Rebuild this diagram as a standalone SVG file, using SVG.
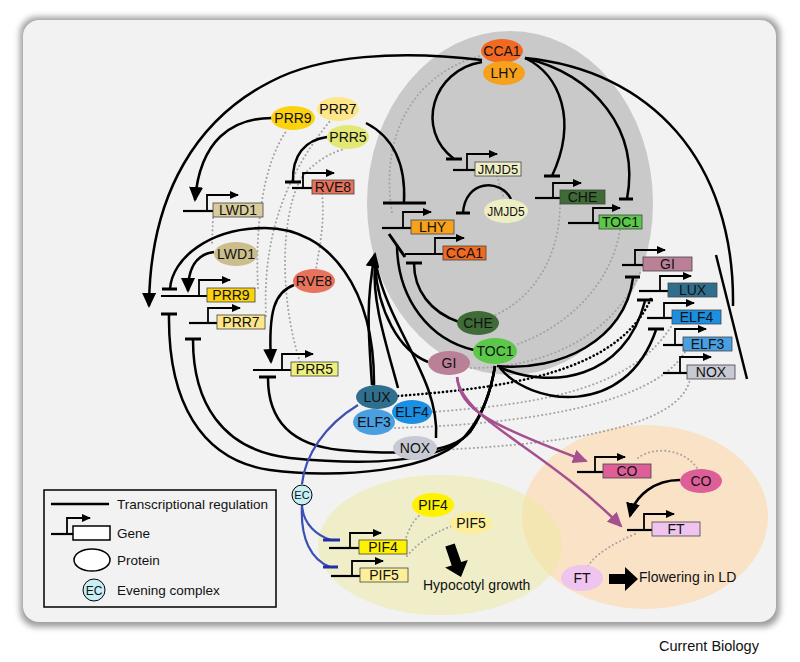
<svg xmlns="http://www.w3.org/2000/svg" width="800" height="662" viewBox="0 0 800 662">
<style>
.ln{fill:none;stroke:#000;stroke-width:2.5}
.tb{stroke:#000;stroke-width:3;fill:none}
.pr{fill:none;stroke:#000;stroke-width:2.2}
.ga{fill:none;stroke:#000;stroke-width:1.8}
.box{stroke:#444;stroke-width:0.8}
.lbl{font-family:"Liberation Sans",Arial,sans-serif;font-size:14px;text-anchor:middle;fill:#111}
.leg{font-family:"Liberation Sans",Arial,sans-serif;font-size:13.5px;fill:#111}
.big{font-family:"Liberation Sans",Arial,sans-serif;font-size:14px;fill:#111}
.dot{fill:none;stroke:#a3a3a3;stroke-width:2;stroke-dasharray:0.1 4;stroke-linecap:round}
.bdot{fill:none;stroke:#000;stroke-width:2.6;stroke-dasharray:0.1 4;stroke-linecap:round}
.pu{fill:none;stroke:#a5508f;stroke-width:2.5}
.bl{fill:none;stroke:#3b4fb5;stroke-width:2.2}
.blt{stroke:#1f2fa8;stroke-width:3}
</style>
<defs>
<filter id="sh" x="-5%" y="-5%" width="110%" height="110%"><feGaussianBlur stdDeviation="3"/></filter>
<marker id="ga" markerUnits="userSpaceOnUse" markerWidth="10" markerHeight="8" refX="8" refY="4" orient="auto"><path d="M0,0 L9,4 L0,8 z" fill="#000"/></marker>
<marker id="ah" markerUnits="userSpaceOnUse" markerWidth="16" markerHeight="14" refX="13" refY="7" orient="auto"><path d="M0,0 L15,7 L0,14 z" fill="#000"/></marker>
<marker id="ap" markerUnits="userSpaceOnUse" markerWidth="16" markerHeight="14" refX="13" refY="7" orient="auto"><path d="M0,0 L15,7 L0,14 z" fill="#a5508f"/></marker>
</defs>
<rect width="800" height="662" fill="#fff"/>
<rect x="20" y="17" width="760" height="610" rx="17" fill="#9c9c9c" filter="url(#sh)"/>
<rect x="23" y="20" width="753" height="602" rx="16" fill="#f2f2f2"/>
<ellipse cx="510" cy="203" rx="143" ry="172" fill="#c9c9c9"/>
<ellipse cx="645" cy="517" rx="123" ry="92" fill="#fae2c6"/>
<ellipse cx="440" cy="545" rx="122" ry="70" fill="#ecea9e" opacity="0.5"/>
<text class="big" x="659" y="651" style="font-size:14.5px">Current Biology</text>

<g id="dotted">
<path class="dot" d="M213,218 L212,243"/>
<path class="dot" d="M258,288 C255,230 262,165 287,130"/>
<path class="dot" d="M266,316 C262,230 290,170 330,121"/>
<path class="dot" d="M300,362 C280,300 280,220 300,180 C310,165 330,152 345,149"/>
<path class="dot" d="M322,194 C325,220 320,245 316,269"/>
<path class="dot" d="M392,212 C380,140 410,75 480,56"/>
<path class="dot" d="M497,176 L504,199"/>
<path class="dot" d="M560,204 C560,260 530,300 495,315"/>
<path class="dot" d="M620,230 C610,290 560,330 515,345"/>
<path class="dot" d="M471,368 C540,368 610,340 640,273"/>
<path class="dot" d="M432,412 C520,405 630,395 672,325"/>
<path class="dot" d="M395,428 C500,425 650,410 685,352"/>
<path class="dot" d="M437,450 C550,445 680,430 690,379"/>
<path class="dot" d="M405,541 C410,525 415,518 424,512"/>
<path class="dot" d="M407,556 C420,540 440,530 455,525"/>
<path class="dot" d="M638,458 C655,445 685,450 697,468"/>
<path class="dot" d="M635,534 C610,545 595,555 588,566"/>
</g>

<g id="connectors">
<path class="ln" d="M482,60 C400,50 320,55 270,82 C200,118 150,190 149,306" marker-end="url(#ah)"/>
<path class="ln" d="M272,118 C232,118 200,140 195,200" marker-end="url(#ah)"/>
<path class="ln" d="M482,62 C432,70 415,130 454,159"/>
<path class="ln" d="M525,58 C560,75 578,120 552,176"/>
<path class="ln" d="M525,58 C595,75 640,130 627,199"/>
<path class="ln" d="M525,58 C650,70 735,160 733,306"/>
<path class="ln" d="M366,123 C395,138 406,165 404,203"/>
<path class="ln" d="M327,137 C305,140 292,155 293,182"/>
<path class="ln" d="M511,199 C500,178 465,180 463,213"/>
<path class="ln" d="M459,322 C430,312 414,290 414,263"/>
<path class="ln" d="M474,350 C430,340 398,300 397,246"/>
<path class="ln" d="M374,386 C375,290 330,228 265,228 C210,228 172,258 170,289"/>
<path class="ln" d="M214,252 C198,254 188,265 188,291" marker-end="url(#ah)"/>
<path class="ln" d="M294,285 C275,292 268,310 271,362" marker-end="url(#ah)"/>
<path class="ln" d="M372,385 C368,330 366,300 375,254" marker-end="url(#ah)"/>
<path class="ln" d="M398,388 C385,340 372,300 375,265"/>
<path class="ln" d="M428,362 C398,350 378,310 375,265"/>
<path class="ln" d="M436,438 C440,380 390,330 376,265"/>
<path class="ln" d="M169,315 C168,400 200,460 270,470 C330,478 440,475 470,430 C485,410 492,385 495,366"/>
<path class="ln" d="M193,340 C193,400 220,450 290,458 C360,465 440,465 470,432 C485,410 492,385 495,366"/>
<path class="ln" d="M268,378 C268,420 290,445 340,450 C400,455 450,455 470,432 C485,410 492,385 495,366"/>
<path class="ln" d="M497,366 C560,372 625,340 633,278"/>
<path class="ln" d="M499,367 C550,390 625,380 645,301"/>
<path class="ln" d="M500,368 C530,405 625,420 656,330"/>
<path class="bdot" d="M398,396 C500,388 620,375 652,296"/>
<path class="ln" d="M680,480 C655,480 635,495 630,516" marker-end="url(#ah)"/>
<path class="pu" d="M457,377 C460,410 490,425 586,461" marker-end="url(#ap)"/>
<path class="pu" d="M457,377 C462,420 540,445 621,526" marker-end="url(#ap)"/>
<path class="bl" d="M358,405 C325,425 305,455 302,484"/>
<path class="bl" d="M302,505 C303,525 318,536 331,540"/>
<path class="bl" d="M302,505 C300,540 312,560 330,567"/>
<g id="tbars">
<path class="tb" d="M162,289 H177 M161,314 H177 M185,339 H201 M259,377 H276 M285,182 H301 M446,159 H462 M383,203 H426 M456,213 H470 M406,263 H422 M389,234 L405,257 M544,176 H560 M619,199 H633 M625,277 H640 M637,300 H653 M648,329 H664"/>
<path class="ln" d="M716,255 L747,379"/>
<path class="blt" d="M323,540 H340 M323,567 H338"/>
</g>
<polygon points="454.7,543.4 461.2,562.1 467.8,559.9 461,577 445.1,567.6 451.7,565.4 445.3,546.6" fill="#000"/>
<polygon points="609,574 625,574 625,567 638,579 625,591 625,584 609,584" fill="#000"/>
</g>

<g id="gene-LWD1"><path class="pr" d="M183,211 H213"/><path class="ga" d="M207,211 V195 H238" marker-end="url(#ga)"/><rect class="box" x="213" y="203" width="50" height="14" fill="#d8cc9c"/><text class="lbl" x="238" y="215">LWD1</text></g>
<g id="gene-PRR9"><path class="pr" d="M161,296 H207"/><path class="ga" d="M199,296 V280 H230" marker-end="url(#ga)"/><rect class="box" x="207" y="288" width="48" height="14" fill="#fcd20f"/><text class="lbl" x="231" y="300">PRR9</text></g>
<g id="gene-PRR7"><path class="pr" d="M189,323 H217"/><path class="ga" d="M208,323 V308 H240" marker-end="url(#ga)"/><rect class="box" x="217" y="315" width="48" height="14" fill="#fde78a"/><text class="lbl" x="241" y="327">PRR7</text></g>
<g id="gene-PRR5"><path class="pr" d="M253,370 H291"/><path class="ga" d="M282,370 V354 H313" marker-end="url(#ga)"/><rect class="box" x="291" y="362" width="47" height="14" fill="#eef07a"/><text class="lbl" x="314.5" y="374">PRR5</text></g>
<g id="gene-RVE8"><path class="pr" d="M292,188 H312"/><path class="ga" d="M303,188 V173 H334" marker-end="url(#ga)"/><rect class="box" x="312" y="180" width="42" height="14" fill="#e8735c"/><text class="lbl" x="333" y="192">RVE8</text></g>
<g id="gene-JMJD5"><path class="pr" d="M453,170 H475"/><path class="ga" d="M467,170 V154 H497" marker-end="url(#ga)"/><rect class="box" x="475" y="162" width="46" height="14" fill="#eeeec4"/><text class="lbl" x="498" y="174" style="font-size:13px">JMJD5</text></g>
<g id="gene-LHY"><path class="pr" d="M382,228 H411"/><path class="ga" d="M403,228 V212 H431" marker-end="url(#ga)"/><rect class="box" x="411" y="220" width="43" height="14" fill="#f6a21c"/><text class="lbl" x="432.5" y="232">LHY</text></g>
<g id="gene-CCA1"><path class="pr" d="M405,254 H443"/><path class="ga" d="M435,254 V238 H464" marker-end="url(#ga)"/><rect class="box" x="443" y="246" width="43" height="14" fill="#f26a21"/><text class="lbl" x="464.5" y="258">CCA1</text></g>
<g id="gene-CHE"><path class="pr" d="M535,198 H560"/><path class="ga" d="M553,198 V183 H581" marker-end="url(#ga)"/><rect class="box" x="560" y="190" width="45" height="14" fill="#3f6b37"/><text class="lbl" x="582.5" y="202">CHE</text></g>
<g id="gene-TOC1"><path class="pr" d="M568,223 H599"/><path class="ga" d="M593,223 V208 H620" marker-end="url(#ga)"/><rect class="box" x="599" y="215" width="43" height="14" fill="#5bc84a"/><text class="lbl" x="620.5" y="227">TOC1</text></g>
<g id="gene-GI"><path class="pr" d="M622,265 H643"/><path class="ga" d="M635,265 V250 H665" marker-end="url(#ga)"/><rect class="box" x="643" y="257" width="49" height="14" fill="#b98097"/><text class="lbl" x="667.5" y="269">GI</text></g>
<g id="gene-LUX"><path class="pr" d="M639,291 H668"/><path class="ga" d="M660,291 V276 H691" marker-end="url(#ga)"/><rect class="box" x="668" y="283" width="49" height="14" fill="#2f6f8d"/><text class="lbl" x="692.5" y="295">LUX</text></g>
<g id="gene-ELF4"><path class="pr" d="M647,318 H672"/><path class="ga" d="M664,318 V303 H694" marker-end="url(#ga)"/><rect class="box" x="672" y="310" width="49" height="14" fill="#1b8fe2"/><text class="lbl" x="696.5" y="322">ELF4</text></g>
<g id="gene-ELF3"><path class="pr" d="M663,345 H683"/><path class="ga" d="M675,345 V329 H706" marker-end="url(#ga)"/><rect class="box" x="683" y="337" width="49" height="14" fill="#4a9fe0"/><text class="lbl" x="707.5" y="349">ELF3</text></g>
<g id="gene-NOX"><path class="pr" d="M663,373 H687"/><path class="ga" d="M680,373 V357 H711" marker-end="url(#ga)"/><rect class="box" x="687" y="365" width="48" height="14" fill="#c7c9d3"/><text class="lbl" x="711" y="377">NOX</text></g>
<g id="gene-CO"><path class="pr" d="M577,472 H603"/><path class="ga" d="M595,472 V457 H625" marker-end="url(#ga)"/><rect class="box" x="603" y="464" width="48" height="14" fill="#de5f98"/><text class="lbl" x="627" y="476">CO</text></g>
<g id="gene-FT"><path class="pr" d="M627,530 H652"/><path class="ga" d="M644,530 V514 H674" marker-end="url(#ga)"/><rect class="box" x="652" y="522" width="48" height="14" fill="#efc4ef"/><text class="lbl" x="676" y="534">FT</text></g>
<g id="gene-PIF4"><path class="pr" d="M329,548 H359"/><path class="ga" d="M350,548 V533 H381" marker-end="url(#ga)"/><rect class="box" x="359" y="540" width="48" height="14" fill="#fff200"/><text class="lbl" x="383" y="552">PIF4</text></g>
<g id="gene-PIF5"><path class="pr" d="M331,576 H360"/><path class="ga" d="M352,576 V561 H383" marker-end="url(#ga)"/><rect class="box" x="360" y="568" width="48" height="14" fill="#fdee9a"/><text class="lbl" x="384" y="580">PIF5</text></g>

<g id="p-CCA1"><ellipse cx="502" cy="51" rx="21" ry="12" fill="#f26a21"/><text class="lbl" x="502" y="56">CCA1</text></g>
<g id="p-LHY"><ellipse cx="504" cy="73" rx="21" ry="12" fill="#f6a21c"/><text class="lbl" x="504" y="78">LHY</text></g>
<g id="p-PRR9"><ellipse cx="293" cy="118" rx="22" ry="12" fill="#fcd20f"/><text class="lbl" x="293" y="123">PRR9</text></g>
<g id="p-PRR7"><ellipse cx="338" cy="109" rx="21" ry="12" fill="#fde78a"/><text class="lbl" x="338" y="114">PRR7</text></g>
<g id="p-PRR5"><ellipse cx="348" cy="137" rx="21" ry="12" fill="#e2e873"/><text class="lbl" x="348" y="142">PRR5</text></g>
<g id="p-LWD1"><ellipse cx="236" cy="254" rx="22" ry="12" fill="#cbbd8c"/><text class="lbl" x="236" y="259">LWD1</text></g>
<g id="p-RVE8"><ellipse cx="314" cy="281" rx="21" ry="12" fill="#e8735c"/><text class="lbl" x="314" y="286">RVE8</text></g>
<g id="p-JMJD5"><ellipse cx="506" cy="211" rx="22" ry="12" fill="#eeeec4"/><text class="lbl" x="506" y="215.5" style="font-size:12px">JMJD5</text></g>
<g id="p-CHE"><ellipse cx="478" cy="323" rx="21" ry="12" fill="#3f6b37"/><text class="lbl" x="478" y="328">CHE</text></g>
<g id="p-TOC1"><ellipse cx="495" cy="351" rx="22" ry="13" fill="#5bc84a"/><text class="lbl" x="495" y="356">TOC1</text></g>
<g id="p-GI"><ellipse cx="449" cy="363" rx="21" ry="12" fill="#b98097"/><text class="lbl" x="449" y="368">GI</text></g>
<g id="p-LUX"><ellipse cx="377" cy="397" rx="21" ry="12" fill="#2f6f8d"/><text class="lbl" x="377" y="402">LUX</text></g>
<g id="p-ELF3"><ellipse cx="374" cy="422" rx="21" ry="13" fill="#4a9fe0"/><text class="lbl" x="374" y="427">ELF3</text></g>
<g id="p-ELF4"><ellipse cx="412" cy="412" rx="20" ry="12" fill="#1b8fe2"/><text class="lbl" x="412" y="417">ELF4</text></g>
<g id="p-NOX"><ellipse cx="415" cy="448" rx="22" ry="12" fill="#c7c9d3"/><text class="lbl" x="415" y="453">NOX</text></g>
<g id="p-EC"><circle cx="302" cy="495" r="10" fill="#c8eef6" stroke="#000" stroke-width="1"/><text class="lbl" x="302" y="499" style="font-size:11px">EC</text></g>
<g id="p-PIF4"><ellipse cx="433" cy="505" rx="21" ry="12" fill="#fff200"/><text class="lbl" x="433" y="510">PIF4</text></g>
<g id="p-PIF5"><ellipse cx="471" cy="523" rx="21" ry="11" fill="#fdee9a"/><text class="lbl" x="471" y="528">PIF5</text></g>
<g id="p-CO"><ellipse cx="701" cy="481" rx="21" ry="12" fill="#de5f98"/><text class="lbl" x="701" y="486">CO</text></g>
<g id="p-FT"><ellipse cx="582" cy="578" rx="21" ry="13" fill="#efc4ef"/><text class="lbl" x="582" y="583">FT</text></g>

<text class="big" x="423" y="590">Hypocotyl growth</text>
<text class="big" x="639" y="582">Flowering in LD</text>

<g id="legend">
<rect x="44" y="490" width="232" height="117" fill="none" stroke="#000" stroke-width="1.5"/>
<path class="ln" d="M51,504 H109"/>
<text class="leg" x="117" y="509">Transcriptional regulation</text>
<path class="pr" d="M51,534 H73"/>
<path class="ga" d="M67,534 V518 H90" marker-end="url(#ga)"/>
<rect x="73" y="526" width="37" height="14" fill="#fff" stroke="#000" stroke-width="1.5"/>
<text class="leg" x="117" y="538">Gene</text>
<ellipse cx="92" cy="560" rx="18" ry="11" fill="#fff" stroke="#000" stroke-width="1.5"/>
<text class="leg" x="117" y="565">Protein</text>
<circle cx="94" cy="590" r="11" fill="#c8eef6" stroke="#000" stroke-width="1"/>
<text class="lbl" x="94" y="594.5" style="font-size:12px">EC</text>
<text class="leg" x="117" y="595">Evening complex</text>
</g>
</svg>
